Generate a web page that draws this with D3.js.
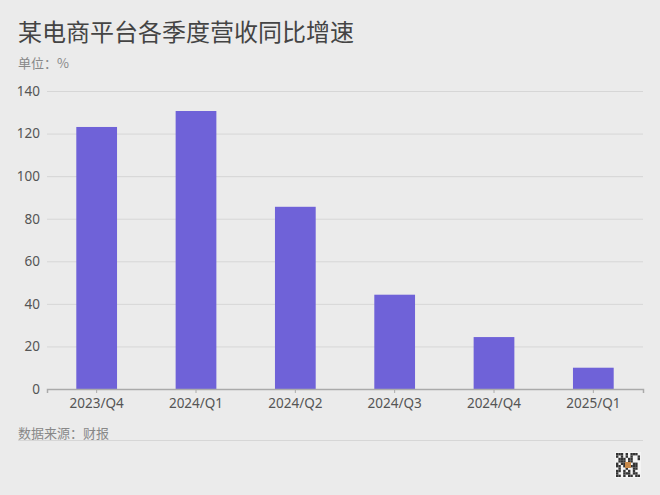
<!DOCTYPE html>
<html lang="zh">
<head>
<meta charset="utf-8">
<title>某电商平台各季度营收同比增速</title>
<style>
  body { margin: 0; background: #ebebeb; }
  svg { display: block; font-family: "Noto Sans CJK SC", "Noto Sans", sans-serif; }
</style>
</head>
<body>
<script src="https://cdnjs.cloudflare.com/ajax/libs/d3/7.9.0/d3.min.js"></script>
<script>
const quarters = ["2023/Q4", "2024/Q1", "2024/Q2", "2024/Q3", "2024/Q4", "2025/Q1"];
const growth = [123.1, 130.6, 85.6, 44.3, 24.4, 10.0];
const yTicks = [0, 20, 40, 60, 80, 100, 120, 140];

const width = 660, height = 495;
const margin = {top: 91, right: 17, bottom: 106, left: 47};

const svg = d3.select("body").append("svg")
    .attr("width", width)
    .attr("height", height);

svg.append("rect").attr("width", width).attr("height", height).attr("fill", "#ebebeb");

const x = d3.scaleBand()
    .domain(quarters)
    .range([margin.left, width - margin.right])
    .paddingInner(0.59)
    .paddingOuter(0.295);

const y = d3.scaleLinear()
    .domain([0, 140])
    .range([height - margin.bottom, margin.top]);

// title
svg.append("text")
    .attr("x", 18).attr("y", 41)
    .attr("font-size", 24).attr("fill", "#444")
    .text("某电商平台各季度营收同比增速");

svg.append("text")
    .attr("x", 18).attr("y", 68)
    .attr("font-size", 13).attr("fill", "#888")
    .text("单位：%");

// grid + y labels
const yAxis = svg.append("g")
    .attr("transform", `translate(${margin.left},0)`)
    .call(d3.axisLeft(y).tickValues(yTicks).tickSize(-(width - margin.left - margin.right)).tickPadding(7));
yAxis.select(".domain").remove();
yAxis.selectAll(".tick line").attr("stroke", "#d6d6d6");
yAxis.selectAll(".tick text")
    .attr("font-size", 13.5).attr("fill", "#555")
    .attr("font-family", "'Noto Sans', sans-serif");

// bars
svg.selectAll(".bar")
    .data(quarters)
    .enter().append("rect")
    .attr("class", "bar")
    .attr("x", d => x(d))
    .attr("y", (d, i) => y(growth[i]))
    .attr("width", x.bandwidth())
    .attr("height", (d, i) => y(0) - y(growth[i]))
    .attr("fill", "#6f62d8");

// x axis
const xAxis = svg.append("g")
    .attr("transform", `translate(0,${y(0)})`)
    .call(d3.axisBottom(x).tickSize(4).tickPadding(5));
xAxis.select(".domain").attr("stroke", "#aaa").attr("stroke-width", 1.5);
xAxis.selectAll(".tick line").attr("stroke", "#aaa");
xAxis.selectAll(".tick text")
    .attr("font-size", 13.5).attr("fill", "#555")
    .attr("font-family", "'Noto Sans', sans-serif");

// source
svg.append("text")
    .attr("x", 18).attr("y", 438)
    .attr("font-size", 13).attr("fill", "#888")
    .text("数据来源：财报");

svg.append("line")
    .attr("x1", 18).attr("x2", width - margin.right)
    .attr("y1", 440.5).attr("y2", 440.5)
    .attr("stroke", "#d6d6d6");

// small qr-like mark
const qr = svg.append("g").attr("transform", "translate(615,452)");
qr.append("rect").attr("width", 26).attr("height", 26).attr("fill", "#f4f4f4");
const cells = "1110101110101010100101110110010111011000101100011011010111100100100110110101010010011101101101011011".split("");
cells.forEach((c, i) => {
  if (c === "1") qr.append("rect")
      .attr("x", 1 + (i % 10) * 2.4).attr("y", 1 + Math.floor(i / 10) * 2.4)
      .attr("width", 2.4).attr("height", 2.4).attr("fill", "#333");
});
qr.append("rect").attr("x", 10).attr("y", 10).attr("width", 6).attr("height", 6).attr("fill", "#c98a4a");
</script>
</body>
</html>
